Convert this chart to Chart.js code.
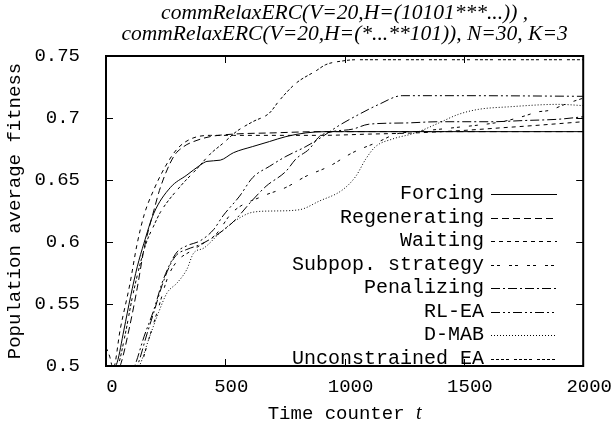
<!DOCTYPE html>
<html>
<head>
<meta charset="utf-8">
<script src="https://cdn.jsdelivr.net/npm/chart.js"></script>
<style>
  html, body { margin: 0; padding: 0; background: #fff; }
</style>
</head>
<body>
<canvas id="chart" width="616" height="433"></canvas>
<script>
// values (t = time counter, v = population average fitness)
const forcingT = [0, 20, 47, 75, 103, 131, 159, 200, 270, 339, 395, 423, 479, 534, 615, 685, 754, 838, 921, 1000, 1500, 2000];
const forcingV = [0.49, 0.495, 0.503, 0.529, 0.556, 0.58, 0.599, 0.623, 0.644, 0.654, 0.662, 0.665, 0.666, 0.672, 0.677, 0.681, 0.685, 0.688, 0.689, 0.689, 0.689, 0.689];

const regenT = [0, 30, 61, 96, 131, 160, 200, 228, 284, 326, 367, 437, 534, 700, 900, 1200, 1600, 2000];
const regenV = [0.49, 0.49, 0.501, 0.529, 0.563, 0.595, 0.625, 0.644, 0.669, 0.677, 0.681, 0.685, 0.687, 0.688, 0.689, 0.689, 0.689, 0.689];

const waitingT = [0, 15, 30, 60, 100, 130, 160, 200, 249, 298, 354, 437, 534, 700, 900, 1100, 1300, 1500, 1650, 1800, 2000];
const waitingV = [0.515, 0.508, 0.498, 0.53, 0.566, 0.598, 0.622, 0.642, 0.661, 0.675, 0.683, 0.686, 0.686, 0.686, 0.686, 0.687, 0.688, 0.69, 0.692, 0.694, 0.697];

const subpopT = [0, 110, 145, 180, 220, 260, 300, 350, 400, 460, 530, 657, 754, 838, 935, 1033, 1144, 1214, 1300, 1450, 1659, 1743, 1812, 1854, 1937, 2000];
const subpopV = [0.48, 0.49, 0.5, 0.522, 0.547, 0.572, 0.585, 0.592, 0.598, 0.606, 0.624, 0.637, 0.644, 0.653, 0.661, 0.672, 0.681, 0.687, 0.689, 0.692, 0.697, 0.701, 0.705, 0.706, 0.712, 0.716];

const penalT = [0, 100, 131, 172, 200, 235, 270, 298, 339, 395, 451, 532, 615, 671, 754, 796, 852, 894, 949, 1033, 1102, 1256, 1395, 1617, 1757, 1896, 2000];
const penalV = [0.48, 0.49, 0.5, 0.526, 0.543, 0.565, 0.582, 0.59, 0.594, 0.598, 0.604, 0.616, 0.634, 0.645, 0.657, 0.667, 0.675, 0.685, 0.689, 0.691, 0.695, 0.696, 0.697, 0.697, 0.698, 0.699, 0.701];

const rlT = [0, 90, 120, 160, 200, 235, 270, 298, 339, 395, 451, 490, 560, 615, 685, 754, 838, 907, 977, 1061, 1144, 1241, 1500, 2000];
const rlV = [0.48, 0.49, 0.5, 0.524, 0.545, 0.567, 0.583, 0.592, 0.597, 0.601, 0.61, 0.621, 0.637, 0.652, 0.661, 0.669, 0.677, 0.685, 0.694, 0.703, 0.711, 0.718, 0.718, 0.7175];

const dmabT = [0, 100, 140, 180, 220, 256, 298, 339, 367, 409, 476, 540, 615, 700, 810, 894, 991, 1047, 1089, 1130, 1200, 1297, 1395, 1478, 1562, 1687, 1896, 2000];
const dmabV = [0.48, 0.49, 0.5, 0.522, 0.543, 0.559, 0.567, 0.578, 0.591, 0.595, 0.607, 0.617, 0.624, 0.625, 0.626, 0.633, 0.642, 0.653, 0.667, 0.677, 0.683, 0.688, 0.696, 0.703, 0.707, 0.709, 0.711, 0.71];

const unconT = [0, 50, 80, 110, 140, 170, 200, 228, 312, 381, 437, 493, 546, 615, 685, 726, 796, 880, 921, 991, 1050, 1500, 2000];
const unconV = [0.49, 0.5, 0.525, 0.555, 0.58, 0.6, 0.613, 0.624, 0.645, 0.659, 0.671, 0.68, 0.689, 0.697, 0.704, 0.714, 0.728, 0.738, 0.743, 0.746, 0.747, 0.747, 0.747];

const names = ['Forcing', 'Regenerating', 'Waiting', 'Subpop. strategy', 'Penalizing', 'RL-EA', 'D-MAB', 'Unconstrained EA'];
const xTicks = [0, 500, 1000, 1500, 2000];
const yTicks = [0.5, 0.55, 0.6, 0.65, 0.7, 0.75];

const mono = "'Liberation Mono', 'DejaVu Sans Mono', monospace";
const serif = "'Liberation Serif', 'DejaVu Serif', serif";

function pts(t, v) {
  return t.map((x, i) => ({ x: x, y: v[i] }));
}

const series = [
  [forcingT, forcingV, []],
  [regenT, regenV, [7, 4]],
  [waitingT, waitingV, [4, 4]],
  [subpopT, subpopV, [3, 3, 3, 9]],
  [penalT, penalV, [9, 3, 2, 3]],
  [rlT, rlV, [9, 3, 2, 3, 2, 3]],
  [dmabT, dmabV, [1, 2]],
  [unconT, unconV, [3, 2, 3, 2, 3, 2, 3, 5]]
];

const datasets = series.map((s, i) => ({
  label: names[i],
  data: pts(s[0], s[1]),
  borderColor: '#000',
  borderWidth: 1,
  borderDash: s[2],
  pointRadius: 0,
  fill: false,
  cubicInterpolationMode: 'monotone'
}));

// gnuplot-like frame, inward ticks, key and titles
const gnuplotLook = {
  id: 'gnuplotLook',
  afterDatasetsDraw(chart) {
    const ctx = chart.ctx;
    const a = chart.chartArea;
    const xs = chart.scales.x, ys = chart.scales.y;
    ctx.save();
    ctx.strokeStyle = '#000';
    ctx.lineWidth = 1;
    ctx.setLineDash([]);
    xTicks.forEach(t => {
      const px = Math.round(xs.getPixelForValue(t)) + 0.5;
      ctx.beginPath();
      ctx.moveTo(px, a.bottom); ctx.lineTo(px, a.bottom - 7);
      ctx.moveTo(px, a.top); ctx.lineTo(px, a.top + 7);
      ctx.stroke();
    });
    yTicks.forEach(v => {
      const py = Math.round(ys.getPixelForValue(v)) + 0.5;
      ctx.beginPath();
      ctx.moveTo(a.left, py); ctx.lineTo(a.left + 7, py);
      ctx.moveTo(a.right, py); ctx.lineTo(a.right - 7, py);
      ctx.stroke();
    });
    ctx.lineWidth = 2;
    ctx.strokeRect(a.left, a.top, a.right - a.left, a.bottom - a.top);

    // key
    ctx.font = '20px ' + mono;
    ctx.fillStyle = '#000';
    ctx.textAlign = 'right';
    ctx.textBaseline = 'middle';
    chart.data.datasets.forEach((ds, i) => {
      const y = 194 + i * 23.5;
      ctx.fillText(ds.label, 484, y);
      ctx.lineWidth = 1;
      ctx.setLineDash(ds.borderDash);
      ctx.beginPath();
      ctx.moveTo(491, Math.round(y) + 0.5);
      ctx.lineTo(557, Math.round(y) + 0.5);
      ctx.stroke();
    });
    ctx.setLineDash([]);

    // title
    const cx = (a.left + a.right) / 2;
    ctx.textAlign = 'center';
    ctx.font = 'italic 21.5px ' + serif;
    ctx.fillText('commRelaxERC(V=20,H=(10101***...)) ,', cx, 13);
    ctx.fillText('commRelaxERC(V=20,H=(*...**101)), N=30, K=3', cx, 34);

    // x axis title with italic t
    const part1 = 'Time counter ';
    ctx.font = '19px ' + mono;
    const w1 = ctx.measureText(part1).width;
    ctx.font = 'italic 20px ' + serif;
    const w2 = ctx.measureText('t').width;
    let sx = cx - (w1 + w2) / 2;
    ctx.textAlign = 'left';
    ctx.font = '19px ' + mono;
    ctx.fillText(part1, sx, 414);
    ctx.font = 'italic 20px ' + serif;
    ctx.fillText('t', sx + w1, 414);
    ctx.restore();
  }
};

new Chart(document.getElementById('chart'), {
  type: 'line',
  data: { datasets: datasets },
  options: {
    responsive: false,
    animation: false,
    layout: { padding: { top: 56, right: 31, left: 0, bottom: 0 } },
    plugins: { legend: { display: false }, tooltip: { enabled: false } },
    scales: {
      x: {
        type: 'linear',
        min: 0, max: 2000,
        grid: { display: false, drawTicks: false },
        border: { display: false },
        ticks: {
          stepSize: 500, autoSkip: false, maxRotation: 0, padding: 10, labelOffset: 6,
          color: '#000', font: { family: mono, size: 19 },
          callback: v => String(v)
        },
        afterFit(s) { s.height = 67; }
      },
      y: {
        min: 0.5, max: 0.75,
        grid: { display: false, drawTicks: false },
        border: { display: false },
        ticks: {
          stepSize: 0.05, padding: 26, color: '#000', font: { family: mono, size: 19 },
          callback: v => String(+v.toFixed(2))
        },
        title: {
          display: true, text: 'Population average fitness', color: '#000',
          font: { family: mono, size: 19 }, padding: { top: 4, bottom: 0 }
        },
        afterFit(s) { s.width = 106; }
      }
    }
  },
  plugins: [gnuplotLook]
});
</script>
</body>
</html>
